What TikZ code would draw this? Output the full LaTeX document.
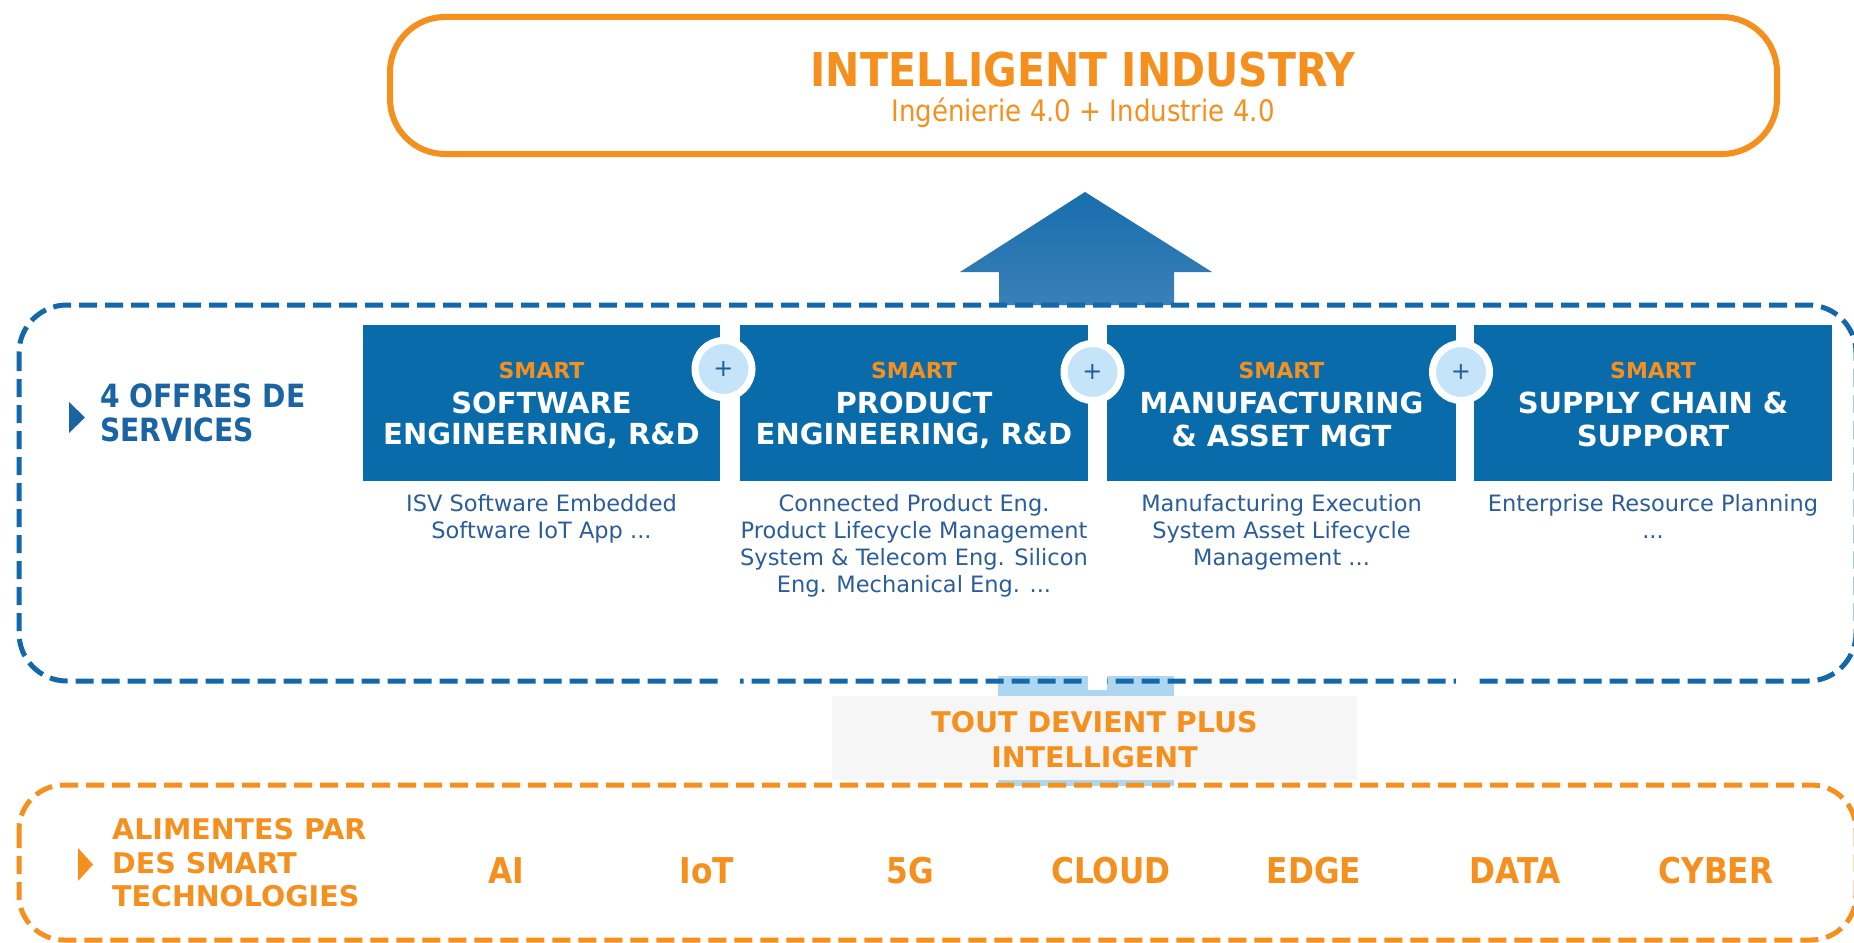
\documentclass[tikz,border=0pt]{standalone}
\usepackage{fontspec}
\setmainfont{DejaVu Sans}
\newfontfamily\condf[FakeStretch=0.88]{DejaVu Sans}
\definecolor{corange}{HTML}{F5901F}
\definecolor{cblue}{HTML}{0A6BAA}
\definecolor{cdash}{HTML}{1268A8}
\definecolor{clight}{HTML}{C5E4F9}
\definecolor{cdesc}{HTML}{2B5E99}
\definecolor{cplus}{HTML}{1F5F9A}
\definecolor{chead}{HTML}{1A64A3}
\definecolor{cshaft}{HTML}{AED6F1}
\definecolor{cgray}{HTML}{F6F6F6}
\definecolor{carrowtop}{HTML}{176EAC}
\definecolor{carrowbot}{HTML}{3B7FB8}
\begin{document}
\begin{tikzpicture}[x=1pt,y=-1pt,
  svc/.style={fill=cblue, inner sep=0pt, minimum height=156pt},
  smartlbl/.style={text=corange, font=\bfseries\fontsize{22}{26}\selectfont, inner sep=0pt},
  svclbl/.style={text=white, font=\bfseries\fontsize{29}{33}\selectfont, inner sep=0pt},
  desc/.style={text=cdesc, font=\fontsize{22.5}{27}\selectfont, align=center, inner sep=0pt, anchor=north},
  pluscirc/.style={circle, fill=clight, draw=white, line width=7pt, minimum size=57pt, inner sep=0pt, text=cplus, font=\fontsize{24}{24}\selectfont},
  tech/.style={text=corange, font=\condf\bfseries\fontsize{35.5}{40}\selectfont, inner sep=0pt},
  headlbl/.style={text=chead, font=\condf\bfseries\fontsize{32}{34}\selectfont, inner sep=0pt, anchor=west},
  feedlbl/.style={text=corange, font=\bfseries\fontsize{28.5}{33}\selectfont, inner sep=0pt, anchor=west},
  bannerlbl/.style={text=corange, font=\bfseries\fontsize{28.5}{33}\selectfont, inner sep=0pt},
  bluedash/.style={draw=cdash, line width=5pt, dash pattern=on 18pt off 8pt},
  orangedash/.style={draw=corange, line width=5pt, dash pattern=on 18pt off 8pt},
  gap/.style={fill=white},
]
\useasboundingbox (0,0) rectangle (1854,942);
\fill[white] (0,0) rectangle (1854,942);

% top box
\node[draw=corange, line width=6pt, rounded corners=55pt, minimum width=1387pt, minimum height=137pt, inner sep=0pt] (top) at (1083.5,85.5) {};
\node[text=corange, font=\condf\bfseries\fontsize{46.6}{50}\selectfont, inner sep=0pt] (title) at (1083,70) {INTELLIGENT INDUSTRY};
\node[text=corange, font=\condf\fontsize{29.6}{32}\selectfont, inner sep=0pt] (subtitle) at (1083,113) {Ingénierie 4.0 + Industrie 4.0};

% big arrow
\shade[top color=carrowtop, bottom color=carrowbot]
  (1085,192) -- (1212,272) -- (1174,272) -- (1174,305) -- (999,305) -- (999,272) -- (960,272) -- cycle;

% light shaft below
\fill[cshaft] (998,676) rectangle (1174,786);

% dashed frames
\draw[bluedash, rounded corners=48pt] (19,305) rectangle (1856,681);
\draw[orangedash, rounded corners=45pt] (19,785) rectangle (1856,940);

% white strips between boxes
\fill[gap] (720,312) rectangle (740,690);
\fill[gap] (1088,312) rectangle (1107,690);
\fill[gap] (1456,312) rectangle (1474,690);

% service boxes
\node[svc, minimum width=357pt] (b1) at (541.5,403) {};
\node[svc, minimum width=348pt] (b2) at (914,403) {};
\node[svc, minimum width=349pt] (b3) at (1281.5,403) {};
\node[svc, minimum width=358pt] (b4) at (1653,403) {};

\node[smartlbl] (b1s) at (541.5,370) {SMART};
\node[svclbl] (b1a) at (541.5,403) {SOFTWARE};
\node[svclbl] (b1b) at (541.5,436) {ENGINEERING, R\&D};
\node[smartlbl] (b2s) at (914,370) {SMART};
\node[svclbl] (b2a) at (914,403) {PRODUCT};
\node[svclbl] (b2b) at (914,436) {ENGINEERING, R\&D};
\node[smartlbl] (b3s) at (1281.5,370) {SMART};
\node[svclbl] (b3a) at (1281.5,403) {MANUFACTURING};
\node[svclbl] (b3b) at (1281.5,436) {\& ASSET MGT};
\node[smartlbl] (b4s) at (1653,370) {SMART};
\node[svclbl] (b4a) at (1653,403) {SUPPLY CHAIN \&};
\node[svclbl] (b4b) at (1653,436) {SUPPORT};

% plus circles
\node[pluscirc] (p1) at (723.5,369) {+};
\node[pluscirc] (p2) at (1092.5,372) {+};
\node[pluscirc] (p3) at (1461,372) {+};

% descriptions
\node[desc] (d1) at (541.5,494) {ISV Software Embedded\\Software IoT App ...};
\node[desc] (d2) at (914,494) {Connected Product Eng.\\Product Lifecycle Management\\System \& Telecom Eng. Silicon\\Eng. Mechanical Eng. ...};
\node[desc] (d3) at (1281.5,494) {Manufacturing Execution\\System Asset Lifecycle\\Management ...};
\node[desc] (d4) at (1653,494) {Enterprise Resource Planning\\...};

% left heading
\fill[chead] (69,402) -- (85,417.5) -- (69,433) -- cycle;
\node[headlbl] (h1) at (100,396) {4 OFFRES DE};
\node[headlbl] (h2) at (100,430) {SERVICES};

% grey banner
\node[fill=cgray, minimum width=525pt, minimum height=84pt, inner sep=0pt] (banner) at (1094.5,738) {};
\node[bannerlbl] (bn1) at (1094.5,722) {TOUT DEVIENT PLUS};
\node[bannerlbl] (bn2) at (1094.5,757) {INTELLIGENT};

% feed heading
\fill[corange] (78,848) -- (93,864.5) -- (78,881) -- cycle;
\node[feedlbl] (f1) at (112,829) {ALIMENTES PAR};
\node[feedlbl] (f2) at (112,863) {DES SMART};
\node[feedlbl] (f3) at (112,896) {TECHNOLOGIES};

% technologies
\node[tech] (t1) at (506,871) {AI};
\node[tech] (t2) at (707,871) {IoT};
\node[tech] (t3) at (910,871) {5G};
\node[tech] (t4) at (1111,871) {CLOUD};
\node[tech] (t5) at (1314,871) {EDGE};
\node[tech] (t6) at (1515,871) {DATA};
\node[tech] (t7) at (1716,871) {CYBER};
\end{tikzpicture}
\end{document}
